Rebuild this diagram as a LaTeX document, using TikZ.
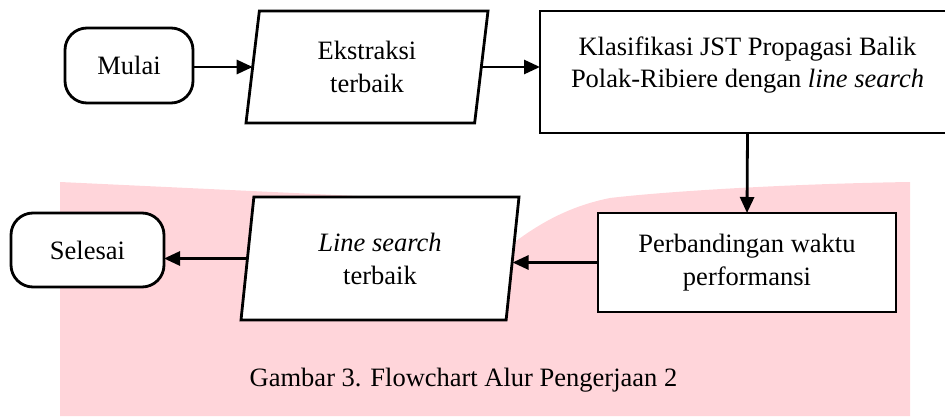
\documentclass[tikz,border=0pt]{standalone}
\usepackage{fontspec}
\setmainfont{Liberation Serif}[Ligatures=NoCommon]
\usetikzlibrary{shapes.geometric,arrows.meta}
\definecolor{pinkbg}{RGB}{255,213,218}
\tikzset{
  every node/.style={font=\fontsize{26.5}{33}\selectfont, inner sep=0pt, outer sep=0pt},
  shapeline/.style={draw=black, line width=2.8pt, fill=white, align=center},
  termbox/.style={shapeline, rectangle, rounded corners=22pt},
  procbox/.style={shapeline, rectangle},
  iobox/.style={shapeline, trapezium, trapezium stretches body=true},
  arr/.style={line width=2.8pt, -{Triangle[length=16pt,width=14pt]}}
}
\begin{document}
\begin{tikzpicture}[x=1pt,y=-1pt]
\useasboundingbox (0,0) rectangle (945,417);
\clip (0,0) rectangle (945,417);
% background watermark
\fill[pinkbg] (60,182) -- (400,198) -- (490,262)
  .. controls (525,232) and (560,208) .. (610,198)
  .. controls (660,192) and (780,184) .. (910,182)
  -- (910,416) -- (60,416) -- cycle;
% nodes
\node[termbox, minimum width=128pt, minimum height=75pt] (mulai) at (129,65.5) {Mulai};
\node[iobox, trapezium left angle=75.5, trapezium right angle=104.5,
      minimum width=242pt, minimum height=112pt] (ek) at (367,67) {Ekstraksi\\terbaik};
\node[procbox, minimum width=415pt, minimum height=122pt] (kl) at (747.5,72) {};
\node[align=center, font=\fontsize{26.5}{32}\selectfont] (kltext) at (747.5,65)
  {Klasifikasi JST Propagasi Balik\\Polak-Ribiere dengan \textit{line search}};
\node[procbox, minimum width=298pt, minimum height=99pt] (pb) at (747,262.5)
  {Perbandingan waktu\\performansi};
\node[iobox, trapezium left angle=76, trapezium right angle=104,
      minimum width=278pt, minimum height=123pt] (ls) at (380,258.5)
  {\textit{Line search}\\terbaik};
\node[termbox, minimum width=153pt, minimum height=74pt] (sel) at (87.5,250) {Selesai};
\node[anchor=base] (cap) at (463.5,386) {Gambar 3. Flowchart Alur Pengerjaan 2};
% connectors
\draw[arr] (mulai.east |- ek.left side) -- (ek.left side);
\draw[arr] (ek.right side) -- (ek.right side -| kl.west);
\draw[arr] (kl.south) -- (pb.north);
\draw[arr] (pb.west) -- (pb.west -| ls.right side);
\draw[arr] (ls.left side) -- (ls.left side -| sel.east);
\end{tikzpicture}
\end{document}
